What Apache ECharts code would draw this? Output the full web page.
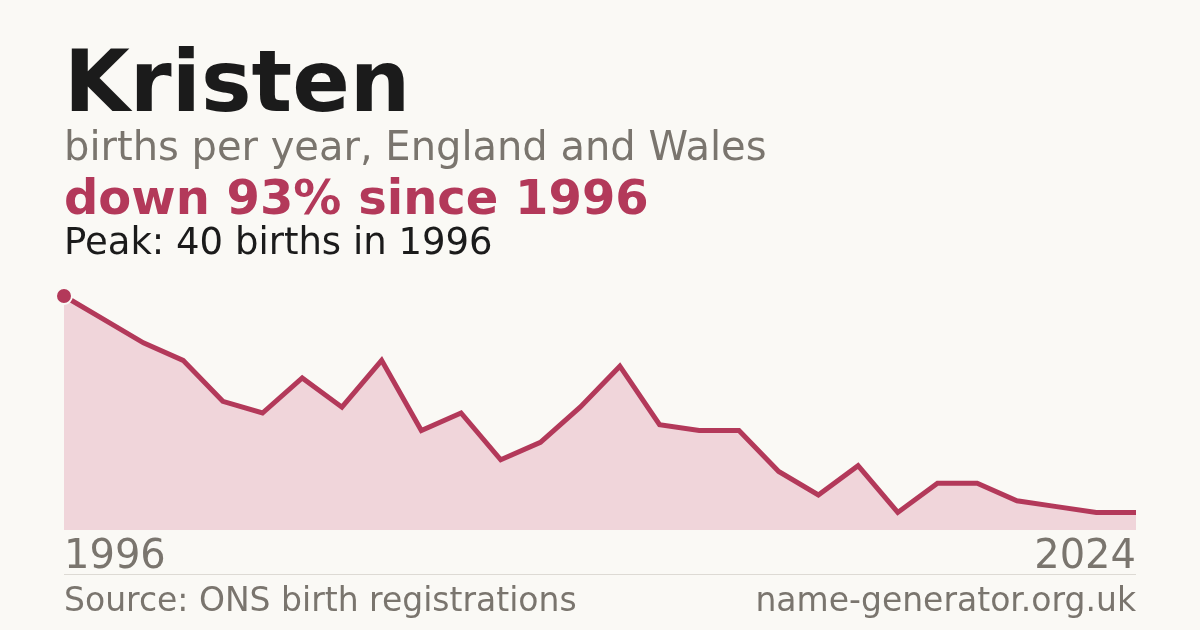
<!DOCTYPE html>
<html>
<head>
<meta charset="utf-8">
<script src="https://cdn.jsdelivr.net/npm/echarts@6/dist/echarts.min.js"></script>
<style>
html,body{margin:0;padding:0;background:#faf9f5;}
#chart{width:1200px;height:630px;}
</style>
</head>
<body>
<div id="chart"></div>
<script>
// Data (28 plotted points, first labelled 1996, last 2024)
const years = [1996,1997,1998,1999,2000,2001,2002,2003,2004,2005,2006,2007,2008,2009,2010,2011,2012,2013,2014,2015,2016,2017,2018,2019,2020,2022,2023,2024];
const births = [40,36,32,29,22,20,26,21,29,17,20,12,15,21,28,18,17,17,10,6,11,3,8,8,5,4,3,3];

const titleText = 'Kristen';
const subtitleText = 'births per year, England and Wales';
const changeText = 'down 93% since 1996';
const peakText = 'Peak: 40 births in 1996';
const sourceText = 'Source: ONS birth registrations';
const siteText = 'name-generator.org.uk';

const RED = '#b3395a';
const GRAY = '#7a756e';
const DARK = '#1b1b1b';
const FONT = '"DejaVu Sans", sans-serif';

const chart = echarts.init(document.getElementById('chart'));
const lastIdx = years.length - 1;

function txt(text, x, baseline, size, weight, color, align) {
  return {
    type: 'text',
    x: x,
    y: baseline - 0.29 * size,
    style: {
      text: text,
      font: weight + ' ' + size + 'px ' + FONT,
      fill: color,
      align: align || 'left',
      verticalAlign: 'middle'
    }
  };
}

chart.setOption({
  backgroundColor: '#faf9f5',
  animation: false,
  grid: { left: 64, right: 64, top: 296, bottom: 100, containLabel: false },
  xAxis: {
    type: 'category',
    data: years.map(String),
    boundaryGap: false,
    axisLine: { show: false },
    axisTick: { show: false },
    splitLine: { show: false },
    axisLabel: {
      interval: function (i) { return i === 0 || i === lastIdx; },
      color: GRAY,
      fontFamily: FONT,
      fontSize: 40,
      margin: 8,
      alignMinLabel: 'left',
      alignMaxLabel: 'right',
      showMinLabel: true,
      showMaxLabel: true
    }
  },
  yAxis: {
    type: 'value',
    min: 0,
    max: 40,
    show: false,
    splitLine: { show: false }
  },
  series: [{
    type: 'line',
    data: births,
    clip: false,
    smooth: false,
    symbol: 'none',
    lineStyle: { color: RED, width: 5, join: 'miter' },
    areaStyle: { color: '#f0d5da', opacity: 1 },
    itemStyle: { color: RED },
    z: 3
  }, {
    type: 'line',
    data: births.map((v, i) => i === 0 ? v : null),
    clip: false,
    symbol: 'circle',
    symbolSize: 16,
    lineStyle: { width: 0 },
    itemStyle: { color: RED, borderColor: '#faf9f5', borderWidth: 2 },
    z: 5
  }],
  graphic: [
    txt(titleText, 64, 113.5, 85, 'bold', DARK),
    txt(subtitleText, 64, 161.5, 40, 'normal', GRAY),
    txt(changeText, 64, 215.5, 48, 'bold', RED),
    txt(peakText, 64, 255.5, 37, 'normal', DARK),
    {
      type: 'line',
      shape: { x1: 64, y1: 574.5, x2: 1136, y2: 574.5 },
      style: { stroke: '#dddad4', lineWidth: 1 }
    },
    txt(sourceText, 64, 612, 33, 'normal', GRAY),
    txt(siteText, 1136, 612, 33, 'normal', GRAY, 'right')
  ]
});
</script>
</body>
</html>
